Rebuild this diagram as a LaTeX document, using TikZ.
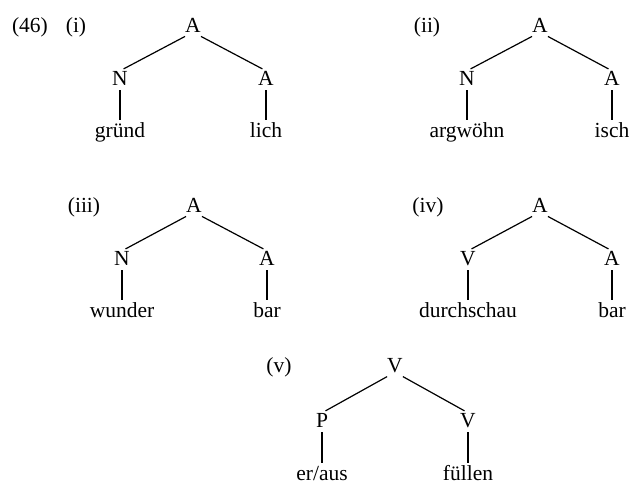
\documentclass[tikz,border=0pt]{standalone}
\usepackage{fontspec}
\setmainfont{Liberation Serif}
\begin{document}
\begin{tikzpicture}[x=1pt,y=-1pt,
  every node/.style={font=\fontsize{21.5}{25}\selectfont, inner sep=0pt},
  cat/.style={text height=14pt, text depth=0pt, anchor=base},
  leaf/.style={text height=17pt, text depth=0pt, anchor=base},
  lab/.style={anchor=base},
  br/.style={line width=1.2pt, shorten <=9pt, shorten >=4pt},
  vt/.style={line width=1.2pt, shorten <=5pt}]
\useasboundingbox (0,0) rectangle (629,485);
% (i)
\node[lab] (n46) at (30,32) {(46)};
\node[lab] (li) at (76,32) {(i)};
\node[cat] (t1) at (193,32) {A};
\node[cat] (l1) at (120,85) {N};
\node[cat] (r1) at (266,85) {A};
\node[leaf] (lw1) at (120,137) {gründ};
\node[leaf] (rw1) at (266,137) {lich};
\draw[br] (t1.south) -- (l1.north);
\draw[br] (t1.south) -- (r1.north);
\draw[vt] (l1.south) -- (lw1.north);
\draw[vt] (r1.south) -- (rw1.north);
% (ii)
\node[lab] (lii) at (427,32) {(ii)};
\node[cat] (t2) at (540,32) {A};
\node[cat] (l2) at (467,85) {N};
\node[cat] (r2) at (612,85) {A};
\node[leaf] (lw2) at (467,137) {argwöhn};
\node[leaf] (rw2) at (612,137) {isch};
\draw[br] (t2.south) -- (l2.north);
\draw[br] (t2.south) -- (r2.north);
\draw[vt] (l2.south) -- (lw2.north);
\draw[vt] (r2.south) -- (rw2.north);
% (iii)
\node[lab] (liii) at (84,212) {(iii)};
\node[cat] (t3) at (194,212) {A};
\node[cat] (l3) at (122,265) {N};
\node[cat] (r3) at (267,265) {A};
\node[leaf] (lw3) at (122,317) {wunder};
\node[leaf] (rw3) at (267,317) {bar};
\draw[br] (t3.south) -- (l3.north);
\draw[br] (t3.south) -- (r3.north);
\draw[vt] (l3.south) -- (lw3.north);
\draw[vt] (r3.south) -- (rw3.north);
% (iv)
\node[lab] (liv) at (428,212) {(iv)};
\node[cat] (t4) at (540,212) {A};
\node[cat] (l4) at (468,265) {V};
\node[cat] (r4) at (612,265) {A};
\node[leaf] (lw4) at (468,317) {durchschau};
\node[leaf] (rw4) at (612,317) {bar};
\draw[br] (t4.south) -- (l4.north);
\draw[br] (t4.south) -- (r4.north);
\draw[vt] (l4.south) -- (lw4.north);
\draw[vt] (r4.south) -- (rw4.north);
% (v)
\node[lab] (lv) at (279,372) {(v)};
\node[cat] (t5) at (395,372) {V};
\node[cat] (l5) at (322,427) {P};
\node[cat] (r5) at (468,427) {V};
\node[leaf] (lw5) at (322,480) {er/aus};
\node[leaf] (rw5) at (468,480) {füllen};
\draw[br] (t5.south) -- (l5.north);
\draw[br] (t5.south) -- (r5.north);
\draw[vt] (l5.south) -- (lw5.north);
\draw[vt] (r5.south) -- (rw5.north);
\end{tikzpicture}
\end{document}
